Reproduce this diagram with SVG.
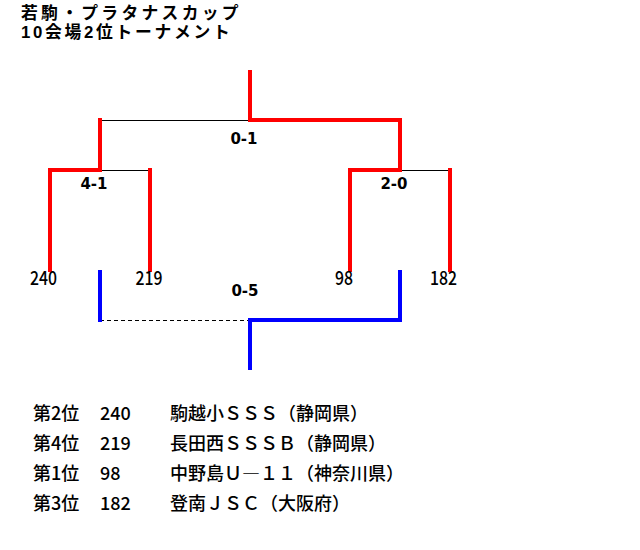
<svg xmlns="http://www.w3.org/2000/svg" width="640" height="550" viewBox="0 0 640 550">
<style>
text{font-family:"Noto Sans CJK JP","Noto Sans",sans-serif;fill:#000}
.title{font-family:"Liberation Sans","Noto Sans CJK JP",sans-serif;font-size:16.8px;font-weight:bold}
.score{font-family:"DejaVu Sans","Liberation Sans",sans-serif;font-size:15px;font-weight:bold;text-anchor:middle}
.team{font-size:19px;font-weight:500;text-anchor:middle}
.list{font-size:18px;font-weight:500}
.red{stroke:#ff0000;stroke-width:4;fill:none;stroke-linejoin:miter;stroke-linecap:square}
.blue{stroke:#0000ff;stroke-width:4;fill:none;stroke-linejoin:miter;stroke-linecap:square}
.thin{stroke:#000;stroke-width:1;fill:none;shape-rendering:crispEdges}
.dash{stroke:#000;stroke-width:1;fill:none;stroke-dasharray:4 3;shape-rendering:crispEdges}
</style>
<rect width="640" height="550" fill="#fff"/>
<g id="title">
<text class="title"><tspan x="21" y="19" letter-spacing="3.3">若駒・プラタナスカップ</tspan><tspan x="21" y="38" letter-spacing="2.7">10会場2位トーナメント</tspan></text>
</g>
<g id="connectors">
<line class="thin" x1="100" y1="120.5" x2="250" y2="120.5"/>
<line class="thin" x1="100" y1="170.5" x2="150" y2="170.5"/>
<line class="thin" x1="400" y1="170.5" x2="450" y2="170.5"/>
<polyline class="red" points="250,72 250,120 400,120 400,170 350,170 350,270"/>
<polyline class="red" points="100,120 100,170 50,170 50,270"/>
<line class="red" x1="150" y1="170" x2="150" y2="270"/>
<line class="red" x1="450" y1="170" x2="450" y2="270"/>
<line class="dash" x1="100" y1="320.5" x2="250" y2="320.5"/>
<line class="blue" x1="100" y1="272" x2="100" y2="320"/>
<polyline class="blue" points="400,272 400,320 250,320 250,368"/>
</g>
<g id="match-final"><text class="score" x="244" y="144">0-1</text></g>
<g id="match-left"><text class="score" x="94" y="189">4-1</text></g>
<g id="match-right"><text class="score" x="394" y="189">2-0</text></g>
<g id="match-third"><text class="score" x="245" y="296">0-5</text></g>
<g id="team-240"><text class="team" x="43.5" y="285" textLength="27" lengthAdjust="spacingAndGlyphs">240</text></g>
<g id="team-219"><text class="team" x="149" y="285" textLength="27" lengthAdjust="spacingAndGlyphs">219</text></g>
<g id="team-98"><text class="team" x="344" y="285" textLength="18" lengthAdjust="spacingAndGlyphs">98</text></g>
<g id="team-182"><text class="team" x="443.5" y="285" textLength="27" lengthAdjust="spacingAndGlyphs">182</text></g>
<g id="results">
<text class="list" x="33" y="420">第2位</text><text class="list" x="100" y="420">240</text><text class="list" x="170" y="420">駒越小ＳＳＳ（静岡県）</text>
<text class="list" x="33" y="450">第4位</text><text class="list" x="100" y="450">219</text><text class="list" x="170" y="450">長田西ＳＳＳＢ（静岡県）</text>
<text class="list" x="33" y="480">第1位</text><text class="list" x="100" y="480">98</text><text class="list" x="170" y="480">中野島Ｕ―１１（神奈川県）</text>
<text class="list" x="33" y="510">第3位</text><text class="list" x="100" y="510">182</text><text class="list" x="170" y="510">登南ＪＳＣ（大阪府）</text>
</g>
</svg>
